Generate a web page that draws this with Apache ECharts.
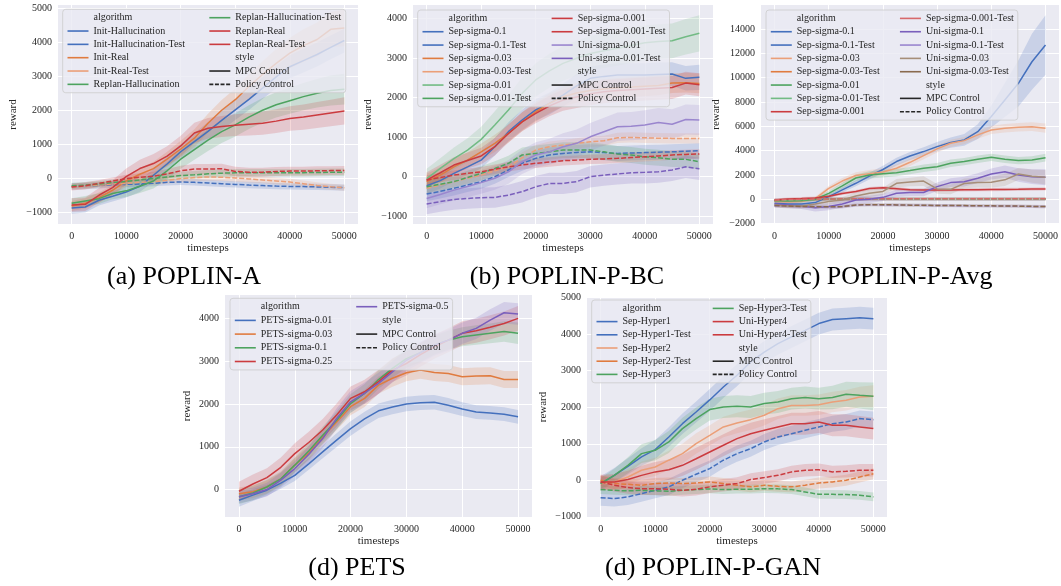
<!DOCTYPE html>
<html><head><meta charset="utf-8">
<script src="https://cdn.jsdelivr.net/npm/echarts@6/dist/echarts.min.js"></script>
<style>html,body{margin:0;padding:0;background:#fff}#c{width:1061px;height:586px}</style>
</head><body><div id="c"></div>
<script>
// ---------- shared axes ----------
const timesteps = [0,2500,5000,7500,10000,12500,15000,17500,20000,22500,25000,27500,30000,32500,35000,37500,40000,42500,45000,47500,50000];
const xTickValues = [0,10000,20000,30000,40000,50000];
const yTicksA = [-1000,0,1000,2000,3000,4000,5000];
const yTicksB = [-1000,0,1000,2000,3000,4000];
const yTicksC = [-2000,0,2000,4000,6000,8000,10000,12000,14000];
const yTicksD = [0,1000,2000,3000,4000];
const yTicksE = [-1000,0,1000,2000,3000,4000,5000];

// ---------- (a) POPLIN-A ----------
const aInitHallucination      = [-875,-845,-648,-530,-403,-236,88,420,780,1080,1380,1700,2010,2320,2650,2980,3280,3460,3640,3850,4050];
const aInitHallucinationCI    = [170,160,150,150,160,170,190,210,230,250,270,290,300,310,320,330,340,350,350,350,350];
const aInitHallucinationTest  = [-240,-230,-210,-190,-180,-170,-150,-120,-110,-120,-140,-160,-180,-200,-215,-230,-240,-245,-255,-265,-275];
const aInitHallucinationTestCI= [100,95,90,90,85,85,85,90,90,95,95,95,95,95,95,90,90,90,90,90,90];
const aInitReal               = [-815,-737,-570,-353,-80,118,285,560,860,1180,1620,2000,2310,2700,3050,3380,3680,3900,4080,4380,4420];
const aInitRealCI             = [150,150,150,150,160,180,200,220,240,260,280,300,330,360,390,420,450,480,500,520,540];
const aInitRealTest           = [-250,-230,-200,-170,-150,-120,-100,-60,-10,20,40,30,10,-20,-50,-80,-110,-160,-210,-250,-280];
const aInitRealTestCI         = [90,90,90,90,90,90,95,100,105,110,110,110,110,105,100,100,95,95,90,90,90];
const aReplanHallucination    = [-737,-668,-600,-450,-370,-236,-80,220,560,845,1120,1370,1570,1800,2000,2160,2280,2400,2500,2580,2620];
const aReplanHallucinationCI  = [150,150,160,170,180,200,220,250,280,300,320,330,340,350,360,370,380,400,420,440,450];
const aReplanHallucinationTest   = [-220,-200,-170,-130,-90,-50,-10,40,80,100,130,150,160,160,160,160,160,165,170,175,180];
const aReplanHallucinationTestCI = [90,90,90,90,90,95,100,105,110,110,110,110,110,110,110,110,110,110,110,110,110];
const aReplanReal             = [-785,-766,-500,-275,50,285,433,650,950,1330,1470,1520,1560,1590,1620,1680,1760,1800,1860,1920,1980];
const aReplanRealCI           = [200,200,210,220,240,260,280,290,300,300,300,310,320,330,340,350,360,370,380,390,400];
const aReplanRealTest         = [-260,-220,-150,-80,-10,30,60,130,220,270,270,280,200,180,180,200,210,210,220,225,230];
const aReplanRealTestCI       = [100,100,100,100,110,120,130,140,150,150,150,150,140,130,130,130,130,130,130,130,130];

// ---------- (b) POPLIN-P-BC ----------
const bSep01        = [-230,-100,85,250,420,760,1140,1435,1690,1855,2065,2300,2490,2540,2575,2575,2575,2590,2600,2490,2515];
const bSep01CI      = [200,200,200,200,210,220,240,260,270,280,290,300,300,300,300,300,300,300,300,310,320];
const bSep01Test    = [-440,-370,-295,-210,-125,0,170,340,465,550,590,615,630,610,590,600,610,620,630,645,660];
const bSep01TestCI  = [180,180,180,180,180,180,180,190,190,190,190,190,190,190,190,190,190,190,190,190,190];
const bSep003       = [-125,40,250,420,630,845,1095,1390,1645,1855,2025,2120,2180,2220,2250,2270,2290,2310,2370,2380,2360];
const bSep003CI     = [200,200,200,200,210,220,230,240,250,250,250,250,250,250,250,250,250,250,250,250,250];
const bSep003Test   = [-295,-210,-125,-40,40,150,250,480,675,760,800,845,885,910,985,995,985,975,970,970,970];
const bSep003TestCI = [130,130,130,130,130,130,130,130,130,130,130,130,130,130,130,130,130,130,130,130,130];
const bSep001       = [-50,210,460,675,945,1310,1690,2110,2450,2680,2870,3000,3120,3190,3250,3320,3390,3420,3440,3545,3630];
const bSep001CI     = [250,260,280,300,320,350,380,400,420,430,440,440,440,440,440,440,440,440,440,450,460];
const bSep001Test   = [-255,-190,-125,-20,85,210,340,550,590,630,675,675,675,630,575,550,505,480,445,440,380];
const bSep001TestCI = [170,170,170,170,180,180,190,190,200,200,200,200,200,200,200,200,200,200,200,200,200];
const bSep0001      = [-85,100,295,410,525,760,1095,1390,1605,1790,1940,2020,2100,2150,2180,2200,2220,2240,2260,2370,2330];
const bSep0001CI    = [200,200,200,200,210,220,230,240,250,260,270,280,290,290,290,290,290,290,290,290,290];
const bSep0001Test  = [-85,-20,40,85,125,190,250,300,340,370,405,420,440,450,465,485,505,525,550,565,575];
const bSep0001TestCI= [120,120,120,120,120,120,120,120,120,120,120,120,120,120,120,120,120,120,120,120,120];
const bUni001       = [-550,-450,-340,-250,-150,-40,125,380,550,630,760,845,1010,1140,1265,1280,1310,1370,1330,1450,1435];
const bUni001CI     = [250,250,260,270,280,290,300,310,320,330,340,350,350,350,360,360,370,370,380,380,380];
const bUni001Test   = [-690,-630,-575,-550,-530,-525,-465,-380,-255,-170,-170,-125,0,40,70,100,110,125,170,250,200];
const bUni001TestCI = [260,260,260,260,260,260,260,270,270,270,270,270,270,270,270,270,280,280,280,280,280];

// ---------- (c) POPLIN-P-Avg ----------
const cSep01        = [-330,-380,-380,-270,220,770,1315,1900,2450,3100,3560,3920,4330,4660,4880,5560,6800,8160,9530,11300,12680];
const cSep01CI      = [200,200,200,200,200,220,250,280,300,320,330,350,380,420,480,600,900,1400,1900,2300,2450];
const cSep01Test    = [-80,-60,-30,0,15,20,25,25,25,20,20,20,20,20,20,20,20,20,20,20,20];
const cSep003       = [-190,-220,-190,50,900,1500,1950,2100,2250,2550,3040,3590,4140,4600,4820,5290,5700,5840,5920,5970,5840];
const cSep003CI     = [150,150,150,150,200,250,280,300,300,300,300,300,300,300,300,320,340,350,350,360,380];
const cSep003Test   = [-120,-90,-50,-10,10,20,20,25,25,25,25,25,25,25,25,25,25,25,25,25,25];
const cSep001       = [-110,-140,-110,0,490,1100,1750,2000,2100,2190,2360,2550,2680,2960,3100,3290,3450,3290,3180,3230,3420];
const cSep001CI     = [150,150,150,150,200,250,280,300,300,300,300,300,300,300,300,300,300,300,300,300,320];
const cSep001Test   = [-100,-70,-40,-5,15,20,25,25,30,30,30,30,30,30,30,30,30,30,30,30,30];
const cSep0001      = [-50,30,60,100,250,480,640,880,950,870,780,760,760,770,780,790,800,810,820,840,850];
const cSep0001CI    = [120,120,120,120,120,130,130,140,140,140,130,130,130,130,130,130,130,130,130,130,130];
const cSep0001Test  = [-50,-20,0,20,30,35,35,35,35,35,35,35,35,35,35,35,35,35,35,35,35];
const cUni01        = [-380,-470,-550,-700,-600,-380,-60,0,160,490,550,560,1040,1370,1450,1730,2080,2270,2000,1860,1810];
const cUni01CI      = [250,250,250,300,300,300,300,300,300,300,300,300,350,350,400,400,450,500,550,600,650];
const cUni01Test    = [-550,-580,-600,-620,-640,-620,-480,-450,-460,-470,-490,-500,-520,-520,-530,-540,-550,-560,-570,-590,-600];
const cUni003       = [-470,-550,-550,-380,-190,-60,270,490,650,1315,1420,1500,850,820,1300,1370,1400,1600,2080,1900,1810];
const cUni003CI     = [200,200,200,200,250,250,300,300,300,350,350,400,400,400,400,400,450,500,500,550,600];
const cUni003Test   = [-520,-560,-590,-610,-620,-600,-470,-440,-450,-460,-480,-490,-510,-510,-520,-530,-540,-550,-560,-580,-600];
const cDashedCI     = [130,130,130,130,130,130,130,130,130,130,130,130,130,130,130,130,130,130,130,130,130];

// ---------- (d) PETS ----------
const dSigma001   = [-250,-130,-15,150,330,600,880,1155,1425,1650,1840,1930,2000,2030,2040,1970,1880,1810,1790,1760,1700];
const dSigma001CI = [150,140,130,130,130,140,150,160,170,170,170,170,170,170,170,170,160,160,160,160,160];
const dSigma003   = [-100,-50,60,250,570,850,1230,1580,1935,2130,2440,2600,2730,2790,2735,2710,2635,2650,2660,2570,2570];
const dSigma003CI = [150,150,150,150,160,170,180,190,200,200,200,200,200,200,200,200,200,200,200,200,200];
const dSigma01    = [-170,-80,60,250,570,900,1270,1620,2010,2245,2570,2830,3060,3200,3375,3490,3570,3610,3650,3690,3650];
const dSigma01CI  = [170,170,170,170,180,190,200,210,220,220,220,220,220,220,220,220,220,230,230,240,250];
const dSigma025   = [-40,130,280,520,840,1100,1390,1740,2130,2285,2520,2790,2945,3150,3335,3490,3650,3710,3790,3880,4000];
const dSigma025CI = [220,220,220,230,240,250,260,270,280,280,280,280,280,280,280,280,280,280,280,280,290];
const dSigma05    = [-170,-100,0,220,490,820,1190,1660,2050,2250,2480,2750,3020,3200,3375,3490,3650,3765,3960,4130,4100];
const dSigma05CI  = [150,150,160,170,180,200,220,240,250,250,250,250,250,250,250,250,250,250,250,250,250];

// ---------- (e) POPLIN-P-GAN ----------
const eSepHyper1     = [-90,135,380,640,840,1185,1550,1870,2200,2555,2875,3240,3510,3740,3925,4105,4290,4400,4425,4450,4425];
const eSepHyper1CI   = [200,200,220,240,260,270,280,290,300,300,300,300,300,300,300,300,300,300,300,300,300];
const eSepHyper1Test = [-475,-500,-455,-365,-275,-180,0,165,320,550,730,865,1050,1185,1275,1370,1460,1550,1595,1690,1660];
const eSepHyper1TestCI = [220,220,220,220,220,220,220,220,220,220,220,220,220,220,220,220,220,220,220,220,220];
const eSepHyper2     = [-90,-45,90,275,365,550,730,1005,1230,1460,1570,1660,1780,1960,2050,2050,2070,2145,2190,2280,2300];
const eSepHyper2CI   = [200,200,220,240,250,260,270,280,280,280,280,280,280,280,280,280,280,280,280,280,300];
const eSepHyper2Test = [0,-90,-110,-135,-90,-75,-90,-75,-45,-90,-135,-180,-135,-165,-180,-135,-75,-45,0,90,180];
const eSepHyper2TestCI = [150,150,150,150,150,150,150,150,150,150,150,150,150,150,150,150,150,150,150,150,150];
const eSepHyper3     = [-90,135,410,730,820,1050,1415,1690,1935,2005,2025,2005,2100,2145,2235,2265,2235,2265,2355,2325,2300];
const eSepHyper3CI   = [150,180,220,260,280,300,300,300,300,300,300,300,300,300,300,300,300,320,340,360,380];
const eSepHyper3Test = [-255,-275,-290,-275,-290,-300,-275,-255,-235,-255,-245,-245,-230,-235,-255,-320,-385,-385,-390,-410,-455];
const eSepHyper3TestCI = [120,120,120,120,120,120,120,120,120,120,120,120,120,120,120,120,120,120,120,120,120];
const eUniHyper4     = [-45,-45,20,135,230,290,410,590,775,960,1140,1275,1370,1460,1550,1550,1595,1505,1505,1460,1415];
const eUniHyper4CI   = [200,220,240,260,270,280,290,300,300,300,300,300,300,300,300,300,300,300,300,300,300];
const eUniHyper4Test = [-45,-135,-200,-230,-230,-245,-275,-245,-180,-135,-90,20,75,135,230,275,290,230,245,275,275];
const eUniHyper4TestCI = [170,170,170,170,170,170,170,170,170,170,170,170,170,170,170,170,170,170,170,170,170];

// ---------- styling ----------
const COL = {
  blue:'#4470BD', orange:'#E07B3F', lorange:'#EB9F78', green:'#4DA35F', lgreen:'#72BB84',
  red:'#CB3B3F', lred:'#D8696B', purple:'#7A5FBC', lpurple:'#9A86CE', brown:'#8A6A4E', lbrown:'#A68E78'
};
const SERIF = '"Liberation Serif","Times New Roman",serif';
const TXT = '#262626';

function L(name, mean, ci, color, dashed) { return {name, mean, ci, color, dashed}; }

const panels = [
  { id:'a', caption:'(a) POPLIN-A', capX:184, capY:277,
    grid:{left:58, top:5, width:300, height:219}, yMin:-1345, yMax:5095, yTicks:yTicksA, nameGap:39,
    legend:{left:62.7, top:9.3, height:82, gap:1.33, col1:113.7, pad:[2.4,4.5,2.4,4]},
    lines:[
      L('Init-Hallucination', aInitHallucination, aInitHallucinationCI, COL.blue, false),
      L('Init-Hallucination-Test', aInitHallucinationTest, aInitHallucinationTestCI, COL.blue, true),
      L('Init-Real', aInitReal, aInitRealCI, COL.orange, false),
      L('Init-Real-Test', aInitRealTest, aInitRealTestCI, COL.lorange, true),
      L('Replan-Hallucination', aReplanHallucination, aReplanHallucinationCI, COL.green, false),
      L('Replan-Hallucination-Test', aReplanHallucinationTest, aReplanHallucinationTestCI, COL.green, true),
      L('Replan-Real', aReplanReal, aReplanRealCI, COL.red, false),
      L('Replan-Real-Test', aReplanRealTest, aReplanRealTestCI, COL.red, true)
    ]},
  { id:'b', caption:'(b) POPLIN-P-BC', capX:567, capY:277,
    grid:{left:413, top:5, width:300, height:219}, yMin:-1197, yMax:4347, yTicks:yTicksB, nameGap:39,
    legend:{left:417.7, top:10, height:95, gap:1.33, col1:101, pad:[2.4,4,2.4,4]},
    lines:[
      L('Sep-sigma-0.1', bSep01, bSep01CI, COL.blue, false),
      L('Sep-sigma-0.1-Test', bSep01Test, bSep01TestCI, COL.blue, true),
      L('Sep-sigma-0.03', bSep003, bSep003CI, COL.orange, false),
      L('Sep-sigma-0.03-Test', bSep003Test, bSep003TestCI, COL.lorange, true),
      L('Sep-sigma-0.01', bSep001, bSep001CI, COL.lgreen, false),
      L('Sep-sigma-0.01-Test', bSep001Test, bSep001TestCI, COL.green, true),
      L('Sep-sigma-0.001', bSep0001, bSep0001CI, COL.red, false),
      L('Sep-sigma-0.001-Test', bSep0001Test, bSep0001TestCI, COL.red, true),
      L('Uni-sigma-0.01', bUni001, bUni001CI, COL.lpurple, false),
      L('Uni-sigma-0.01-Test', bUni001Test, bUni001TestCI, COL.purple, true)
    ]},
  { id:'c', caption:'(c) POPLIN-P-Avg', capX:892, capY:277,
    grid:{left:761, top:5, width:300, height:219}, yMin:-2030, yMax:15965, yTicks:yTicksC, nameGap:39,
    legend:{left:766, top:10, height:108, gap:1.33, col1:101, pad:[2.4,4,2.4,4]},
    lines:[
      L('Sep-sigma-0.1', cSep01, cSep01CI, COL.blue, false),
      L('Sep-sigma-0.1-Test', cSep01Test, cDashedCI, COL.blue, true),
      L('Sep-sigma-0.03', cSep003, cSep003CI, COL.lorange, false),
      L('Sep-sigma-0.03-Test', cSep003Test, cDashedCI, COL.orange, true),
      L('Sep-sigma-0.01', cSep001, cSep001CI, COL.green, false),
      L('Sep-sigma-0.01-Test', cSep001Test, cDashedCI, COL.lgreen, true),
      L('Sep-sigma-0.001', cSep0001, cSep0001CI, COL.red, false),
      L('Sep-sigma-0.001-Test', cSep0001Test, cDashedCI, COL.lred, true),
      L('Uni-sigma-0.1', cUni01, cUni01CI, COL.purple, false),
      L('Uni-sigma-0.1-Test', cUni01Test, cDashedCI, COL.lpurple, true),
      L('Uni-sigma-0.03', cUni003, cUni003CI, COL.lbrown, false),
      L('Uni-sigma-0.03-Test', cUni003Test, cDashedCI, COL.brown, true)
    ]},
  { id:'d', caption:'(d) PETS', capX:357, capY:568,
    grid:{left:225, top:295, width:307, height:222}, yMin:-641, yMax:4545, yTicks:yTicksD, nameGap:32,
    legend:{left:230, top:298.3, height:70, gap:1.7, col1:92.9, pad:[2.4,4,2.4,4]},
    lines:[
      L('PETS-sigma-0.01', dSigma001, dSigma001CI, COL.blue, false),
      L('PETS-sigma-0.03', dSigma003, dSigma003CI, COL.orange, false),
      L('PETS-sigma-0.1', dSigma01, dSigma01CI, COL.green, false),
      L('PETS-sigma-0.25', dSigma025, dSigma025CI, COL.red, false),
      L('PETS-sigma-0.5', dSigma05, dSigma05CI, COL.purple, false)
    ]},
  { id:'e', caption:'(d) POPLIN-P-GAN', capX:713, capY:568,
    grid:{left:587, top:297, width:300, height:220}, yMin:-1005, yMax:5018, yTicks:yTicksE, nameGap:38.5,
    legend:{left:591.7, top:300, height:81, gap:1.2, col1:88.2, pad:[2.4,4,2.4,4]},
    lines:[
      L('Sep-Hyper1', eSepHyper1, eSepHyper1CI, COL.blue, false),
      L('Sep-Hyper1-Test', eSepHyper1Test, eSepHyper1TestCI, COL.blue, true),
      L('Sep-Hyper2', eSepHyper2, eSepHyper2CI, COL.lorange, false),
      L('Sep-Hyper2-Test', eSepHyper2Test, eSepHyper2TestCI, COL.orange, true),
      L('Sep-Hyper3', eSepHyper3, eSepHyper3CI, COL.green, false),
      L('Sep-Hyper3-Test', eSepHyper3Test, eSepHyper3TestCI, COL.green, true),
      L('Uni-Hyper4', eUniHyper4, eUniHyper4CI, COL.red, false),
      L('Uni-Hyper4-Test', eUniHyper4Test, eUniHyper4TestCI, COL.red, true)
    ]}
];

const grids = [], xAxes = [], yAxes = [], series = [], legends = [], graphics = [];
const fmtNum = v => (v < 0 ? '\u2212' + Math.abs(v) : String(v));

// header / style dummy entries for legends
series.push({type:'line', name:'h|algorithm', data:[], xAxisIndex:0, yAxisIndex:0, symbol:'none', lineStyle:{opacity:0}, itemStyle:{opacity:0}});
series.push({type:'line', name:'h|style', data:[], xAxisIndex:0, yAxisIndex:0, symbol:'none', lineStyle:{opacity:0}, itemStyle:{opacity:0}});
series.push({type:'line', name:'h|MPC Control', data:[], xAxisIndex:0, yAxisIndex:0, symbol:'none', lineStyle:{color:TXT, width:1.6}, itemStyle:{color:TXT}});
series.push({type:'line', name:'h|Policy Control', data:[], xAxisIndex:0, yAxisIndex:0, symbol:'none', lineStyle:{color:TXT, width:1.6, type:[4,1.6]}, itemStyle:{color:TXT}});

function bandSeries(ln, idx, key) {
  const pts = timesteps.map((t, i) => [t, ln.mean[i] - ln.ci[i], ln.mean[i] + ln.ci[i]]);
  return {
    type:'custom', name:'_ci' + key, xAxisIndex:idx, yAxisIndex:idx, silent:true, z:1, clip:true,
    encode:{x:0, y:[1, 2]},
    data: pts,
    renderItem: (params, api) => {
      if (params.dataIndex !== 0) return null;
      const poly = [];
      for (let i = 0; i < pts.length; i++) poly.push(api.coord([pts[i][0], pts[i][2]]));
      for (let i = pts.length - 1; i >= 0; i--) poly.push(api.coord([pts[i][0], pts[i][1]]));
      return {type:'polygon', shape:{points:poly}, style:{fill:ln.color, opacity:0.2}};
    }
  };
}

panels.forEach((p, idx) => {
  grids.push(Object.assign({show:true, backgroundColor:'#EAEAF2', borderWidth:0, containLabel:false}, p.grid));
  xAxes.push({
    type:'value', gridIndex:idx, min:-2500, max:52500,
    axisLine:{show:false}, axisTick:{show:false, customValues:xTickValues},
    axisLabel:{customValues:xTickValues, fontFamily:SERIF, fontSize:10, color:TXT, margin:7, formatter:v => String(v)},
    splitLine:{show:true, lineStyle:{color:'#ffffff', width:1}},
    name:'timesteps', nameLocation:'middle', nameGap:19,
    nameTextStyle:{fontFamily:SERIF, fontSize:11, color:TXT}
  });
  yAxes.push({
    type:'value', gridIndex:idx, min:p.yMin, max:p.yMax,
    axisLine:{show:false}, axisTick:{show:false, customValues:p.yTicks},
    axisLabel:{customValues:p.yTicks, fontFamily:SERIF, fontSize:10, color:TXT, margin:6, formatter:fmtNum},
    splitLine:{show:true, lineStyle:{color:'#ffffff', width:1}},
    name:'reward', nameLocation:'middle', nameGap:p.nameGap,
    nameTextStyle:{fontFamily:SERIF, fontSize:11, color:TXT}
  });
  p.lines.forEach((ln, j) => series.push(bandSeries(ln, idx, p.id + j)));
  p.lines.forEach(ln => {
    series.push({type:'line', name:p.id + '|' + ln.name, xAxisIndex:idx, yAxisIndex:idx,
      data: timesteps.map((t, i) => [t, ln.mean[i]]),
      symbol:'none', silent:true, z:3,
      lineStyle:{color:ln.color, width:1.5, type: ln.dashed ? [5,2] : 'solid'},
      itemStyle:{color:ln.color}});
  });
  const lg = p.legend;
  const data = [{name:'h|algorithm', textStyle:{width:lg.col1}}]
    .concat(p.lines.map(ln => ({name:p.id + '|' + ln.name})))
    .concat([{name:'h|style'}, {name:'h|MPC Control'}, {name:'h|Policy Control', lineStyle:{type:[4,1.6]}}]);
  legends.push({
    orient:'vertical', left:lg.left, top:lg.top, height:lg.height, align:'left',
    itemWidth:21, itemHeight:12, itemGap:lg.gap, padding:lg.pad,
    backgroundColor:'rgba(234,234,242,0.8)', borderColor:'#cccccc', borderWidth:0.8, borderRadius:3,
    selectedMode:false,
    itemStyle:{opacity:0}, lineStyle:{width:1.6, type:'solid'},
    textStyle:{fontFamily:SERIF, fontSize:10, color:TXT, lineHeight:12},
    formatter: n => n.split('|')[1],
    data
  });
  graphics.push({type:'text', x:p.capX, y:p.capY, silent:true,
    style:{text:p.caption, font:'26px ' + SERIF, fill:'#000', textAlign:'center', textVerticalAlign:'middle'}});
});

const chart = echarts.init(document.getElementById('c'), null, {renderer:'canvas'});
chart.setOption({
  animation:false,
  backgroundColor:'#ffffff',
  grid:grids, xAxis:xAxes, yAxis:yAxes, series, legend:legends, graphic:graphics,
  tooltip:{show:false}
});
</script>
</body></html>
